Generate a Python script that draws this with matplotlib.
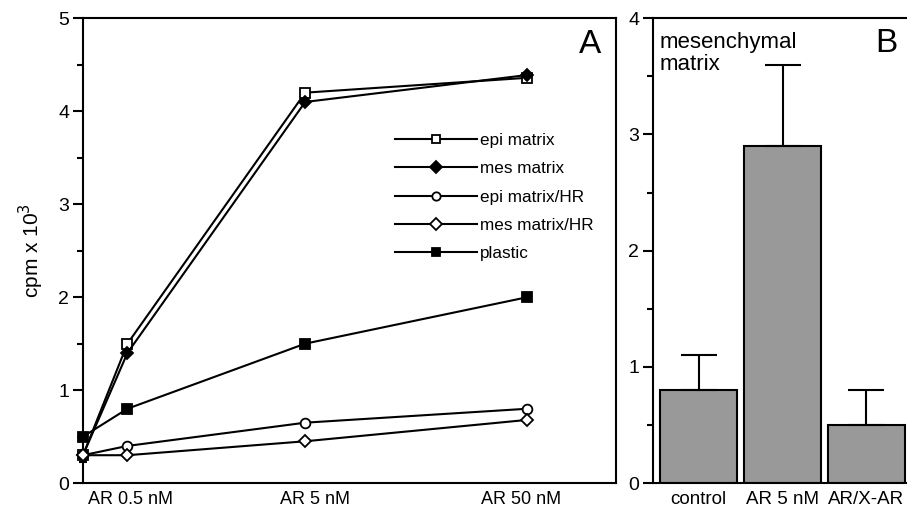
import numpy as np
import matplotlib
matplotlib.use("Agg")
import matplotlib.pyplot as plt
from matplotlib.ticker import MultipleLocator

plt.rcParams['font.family'] = ['Liberation Sans', 'DejaVu Sans']

# panel A data
dose_pos = [0, 1, 5, 10]
dose_labels = ["AR 0.5 nM", "AR 5 nM", "AR 50 nM"]
epi_matrix = [0.3, 1.5, 4.2, 4.36]
mes_matrix = [0.3, 1.4, 4.1, 4.39]
epi_matrix_hr = [0.3, 0.4, 0.65, 0.8]
mes_matrix_hr = [0.3, 0.3, 0.45, 0.68]
plastic = [0.5, 0.8, 1.5, 2.0]

# panel B data
conditions = ["control", "AR 5 nM", "AR/X-AR"]
counts = [0.8, 2.9, 0.5]
errors = [0.3, 0.7, 0.3]

fig = plt.figure(figsize=(9.07, 5.08), dpi=100)
axA = fig.add_axes([0.0915, 0.049, 0.588, 0.915])
axB = fig.add_axes([0.72, 0.049, 0.30, 0.915])

lw = 1.5
ms = 7
series = [
    (epi_matrix, 's', 'white', "epi matrix"),
    (mes_matrix, 'D', 'black', "mes matrix"),
    (epi_matrix_hr, 'o', 'white', "epi matrix/HR"),
    (mes_matrix_hr, 'D', 'white', "mes matrix/HR"),
    (plastic, 's', 'black', "plastic"),
]
for vals, mk, fc, lab in series:
    size = ms - 1 if mk == 'D' else ms
    axA.plot(dose_pos, vals, color='black', lw=lw, marker=mk, ms=size,
             mfc=fc, mec='black', mew=1.3, label=lab, clip_on=False, zorder=3)

# small error bar at the starting point
axA.errorbar([0], [0.3], yerr=[[0.07], [0]], fmt='none', ecolor='black',
             elinewidth=1.5, capsize=3, capthick=1.5, clip_on=False)

axA.set_xlim(0, 12)
axA.set_ylim(0, 5)
# labels sit a little off the data positions, as in the original
axA.set_xticks([1.08, 5.22, 9.86])
axA.set_xticklabels(dose_labels, fontsize=13)
axA.tick_params(axis='x', length=0, pad=6)
axA.yaxis.set_major_locator(MultipleLocator(1))
axA.yaxis.set_minor_locator(MultipleLocator(0.5))
axA.tick_params(axis='y', which='major', length=7, width=1.5, labelsize=14, pad=3)
axA.tick_params(axis='y', which='minor', length=4, width=1.5)
axA.set_ylabel("cpm x 10$^3$", fontsize=15, labelpad=9)
axA.text(0.95, 0.943, "A", transform=axA.transAxes, fontsize=24,
         ha='center', va='center')

leg = axA.legend(loc='upper left', bbox_to_anchor=(0.585, 0.753), frameon=False,
                 fontsize=12.3, handlelength=4.8, handletextpad=0.15,
                 labelspacing=0.78, borderpad=0, borderaxespad=0)
for h in leg.legend_handles:
    h.set_markersize(6)

x = np.arange(len(conditions))
axB.bar(x, counts, width=0.92, color='#999999', edgecolor='black', lw=1.5,
        yerr=[np.zeros(len(errors)), errors], capsize=13,
        error_kw=dict(elinewidth=1.5, capthick=1.5, ecolor='black'), zorder=2)
axB.set_xlim(-0.545, 2.7)
axB.set_ylim(0, 4)
axB.set_xticks(x)
axB.set_xticklabels(conditions, fontsize=13.5)
axB.tick_params(axis='x', length=0, pad=6)
axB.yaxis.set_major_locator(MultipleLocator(1))
axB.yaxis.set_minor_locator(MultipleLocator(0.5))
axB.tick_params(axis='y', which='major', length=7, width=1.5, labelsize=14, pad=3)
axB.tick_params(axis='y', which='minor', length=4, width=1.5)
axB.spines['right'].set_visible(False)
axB.text(0.025, 0.925, "mesenchymal\nmatrix", transform=axB.transAxes,
         fontsize=16, ha='left', va='center', linespacing=1.05)
axB.text(0.9, 0.945, "B", transform=axB.transAxes, fontsize=24,
         ha='right', va='center')

for ax in (axA, axB):
    for sp in ax.spines.values():
        sp.set_linewidth(1.5)

fig.savefig("out.png", dpi=100)
